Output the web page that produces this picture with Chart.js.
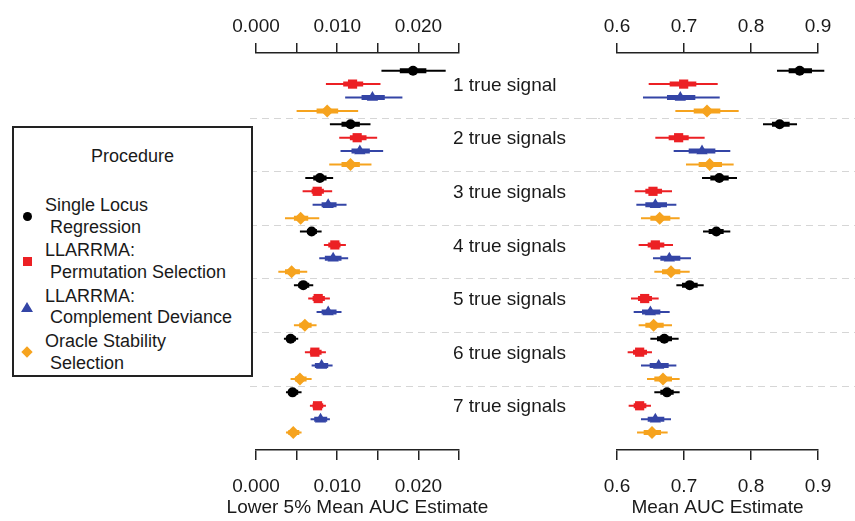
<!DOCTYPE html>
<html>
<head>
<meta charset="utf-8">
<script src="https://cdn.jsdelivr.net/npm/chart.js@4.4.0/dist/chart.umd.min.js"></script>
<style>
  body { margin: 0; width: 855px; height: 521px; position: relative; background: #fff; overflow: hidden;
         font-family: 'Liberation Sans', Arial, Helvetica, sans-serif; color: #1a1a1a; }
  #leftWrap { position: absolute; left: 200px; top: 0; width: 400px; height: 521px; }
  #rightWrap { position: absolute; left: 590px; top: 0; width: 265px; height: 521px; }
  #legend { position: absolute; left: 12px; top: 126px; width: 237px; height: 247px; border: 2px solid #222; background: #fff; }
  #legend .ltitle { position: absolute; left: 0; width: 100%; top: 18px; text-align: center; font-size: 18px; }
  #legend .line { position: absolute; left: 31px; font-size: 18px; line-height: 22px; white-space: pre; }
  #legend .mk { position: absolute; }
</style>
</head>
<body>
<div id="leftWrap"><canvas id="lowChart" width="400" height="521"></canvas></div>
<div id="rightWrap"><canvas id="meanChart" width="265" height="521"></canvas></div>
<div id="legend"></div>

<script>
// groups (rows of 4, one per procedure)
const groups = ['1 true signal', '2 true signals', '3 true signals', '4 true signals',
                '5 true signals', '6 true signals', '7 true signals'];
const methodNames = [['Single Locus', ' Regression'], ['LLARRMA:', ' Permutation Selection'],
                     ['LLARRMA:', ' Complement Deviance'], ['Oracle Stability', ' Selection']];
const methodColors = ['#000000', '#EC2024', '#3445A6', '#F6A31E'];
const methodShapes = ['circle', 'rect', 'triangle', 'rectRot'];
const methodRadius = [5, 6.5, 6.5, 6.5];

// each row: [outer low, inner low, estimate, inner high, outer high]
// Lower 5% Mean AUC Estimate
const lowSLR = [[0.01545, 0.01771, 0.01934, 0.02098, 0.02336], [0.0091, 0.01053, 0.01164, 0.01279, 0.0141],
  [0.00607, 0.00705, 0.00787, 0.00869, 0.0095], [0.00541, 0.0063, 0.00685, 0.0075, 0.00808],
  [0.00467, 0.0052, 0.00582, 0.00656, 0.00705], [0.00344, 0.00377, 0.00426, 0.00492, 0.0052],
  [0.00369, 0.00398, 0.0045, 0.0052, 0.00561]];
const lowPerm = [[0.00861, 0.01074, 0.01189, 0.0132, 0.01533], [0.01025, 0.01156, 0.01246, 0.01361, 0.01492],
  [0.00574, 0.00685, 0.00754, 0.00836, 0.00938], [0.00836, 0.0089, 0.00971, 0.01041, 0.01107],
  [0.00643, 0.00697, 0.00766, 0.00848, 0.0091], [0.00602, 0.00664, 0.00725, 0.00808, 0.00861],
  [0.00664, 0.00697, 0.00758, 0.00828, 0.00861]];
const lowComp = [[0.01098, 0.013, 0.01434, 0.01586, 0.01803], [0.01041, 0.01176, 0.01279, 0.01402, 0.01566],
  [0.00697, 0.00808, 0.00889, 0.00992, 0.01115], [0.00779, 0.00848, 0.0095, 0.01053, 0.01135],
  [0.00746, 0.00808, 0.00889, 0.00992, 0.01053], [0.00685, 0.00725, 0.00808, 0.00889, 0.00943],
  [0.00672, 0.00717, 0.00795, 0.00877, 0.0091]];
const lowOracle = [[0.005, 0.00746, 0.00877, 0.01012, 0.01258], [0.00902, 0.01053, 0.01164, 0.01279, 0.01422],
  [0.00357, 0.00467, 0.0055, 0.00643, 0.00779], [0.00275, 0.00357, 0.00439, 0.00541, 0.00631],
  [0.00467, 0.00533, 0.00602, 0.00685, 0.00746], [0.00426, 0.0048, 0.00541, 0.00623, 0.00685],
  [0.00369, 0.00398, 0.00459, 0.00533, 0.00561]];

// Mean AUC Estimate
const meanSLR = [[0.8388, 0.8562, 0.8727, 0.891, 0.9094], [0.8179, 0.8313, 0.8428, 0.8577, 0.8687],
  [0.7269, 0.7393, 0.7527, 0.7667, 0.7791], [0.7284, 0.7368, 0.7483, 0.7592, 0.7691],
  [0.6886, 0.697, 0.7085, 0.7204, 0.7294], [0.6498, 0.6597, 0.6706, 0.6821, 0.692],
  [0.6557, 0.6647, 0.6746, 0.6846, 0.6935]];
const meanPerm = [[0.6473, 0.6786, 0.6995, 0.7184, 0.7503], [0.6572, 0.6771, 0.692, 0.707, 0.7308],
  [0.6264, 0.6423, 0.6537, 0.6672, 0.6821], [0.6323, 0.6458, 0.6572, 0.6706, 0.6836],
  [0.6209, 0.6313, 0.6413, 0.6522, 0.6622], [0.6159, 0.6239, 0.6338, 0.6448, 0.6522],
  [0.6174, 0.6249, 0.6338, 0.6438, 0.6507]];
const meanComp = [[0.6388, 0.6746, 0.6945, 0.7169, 0.7533], [0.6846, 0.707, 0.7269, 0.7468, 0.7691],
  [0.6289, 0.6423, 0.6572, 0.6746, 0.6886], [0.6537, 0.6647, 0.6781, 0.6945, 0.7104],
  [0.6249, 0.6373, 0.6498, 0.6647, 0.6786], [0.6358, 0.6488, 0.6622, 0.6771, 0.6886],
  [0.6358, 0.6458, 0.6572, 0.6706, 0.6806]];
const meanOracle = [[0.6871, 0.7145, 0.7343, 0.7542, 0.7816], [0.703, 0.7219, 0.7383, 0.7567, 0.7741],
  [0.6358, 0.6498, 0.6637, 0.6796, 0.6935], [0.6557, 0.6672, 0.6806, 0.6945, 0.7085],
  [0.6323, 0.6423, 0.6547, 0.6697, 0.6821], [0.6448, 0.6557, 0.6687, 0.6821, 0.6935],
  [0.6299, 0.6398, 0.6522, 0.6657, 0.6756]];

const FONT = "'Liberation Sans', Arial, Helvetica, sans-serif";
const TEXT = '#1a1a1a';
const AXIS = '#222222';

function buildDatasets(panel) {
    let out = [];
    panel.forEach((rows, m) => {
        let thin = [], thick = [], pts = [];
        rows.forEach((t, g) => {
            let r = g * 4 + m;
            thin.push({x: t[0], y: r}, {x: t[4], y: r}, {x: null, y: null});
            thick.push({x: t[1], y: r}, {x: t[3], y: r}, {x: null, y: null});
            pts.push({x: t[2], y: r});
        });
        const c = methodColors[m];
        out.push({ type: 'line', data: thin, borderColor: c, borderWidth: 2, pointRadius: 0,
                   spanGaps: false, fill: false, clip: false, order: 3, xAxisID: 'x', yAxisID: 'y' });
        out.push({ type: 'line', data: thick, borderColor: c, borderWidth: 5, pointRadius: 0,
                   spanGaps: false, fill: false, clip: false, order: 2, xAxisID: 'x', yAxisID: 'y' });
        out.push({ type: 'scatter', data: pts, pointStyle: methodShapes[m], pointRadius: methodRadius[m],
                   backgroundColor: c, borderColor: c, borderWidth: 0, clip: false, order: 1,
                   xAxisID: 'x', yAxisID: 'y' });
    });
    return out;
}

// dashed group separators, group names and the axis title
const panelDecor = {
    id: 'panelDecor',
    beforeDatasetsDraw(chart, args, opts) {
        const ctx = chart.ctx, ys = chart.scales.y;
        ctx.save();
        ctx.strokeStyle = '#d6d6d6';
        ctx.lineWidth = 1;
        ctx.setLineDash([7, 5]);
        for (let g = 1; g < groups.length; g++) {
            let py = Math.round(ys.getPixelForValue(g * 4 - 0.5)) + 0.5;
            ctx.beginPath(); ctx.moveTo(opts.from, py); ctx.lineTo(chart.width, py); ctx.stroke();
        }
        ctx.setLineDash([]);
        ctx.fillStyle = TEXT;
        ctx.font = '19px ' + FONT;
        ctx.textBaseline = 'middle';
        if (opts.labelX != null) {
            ctx.textAlign = 'left';
            groups.forEach((name, g) => ctx.fillText(name, opts.labelX, ys.getPixelForValue(g * 4 + 1.1)));
        }
        const xs = chart.scales.x;
        ctx.textAlign = 'center';
        ctx.fillText(opts.title, (xs.left + xs.right) / 2, 508);
        ctx.restore();
    }
};

function axisCfg(pos, min, max, step, fmt) {
    return {
        type: 'linear', position: pos, min: min, max: max,
        ticks: { stepSize: step, autoSkip: false, maxRotation: 0, color: TEXT,
                 font: { size: 19, family: FONT }, padding: pos === 'top' ? 5 : 15, callback: fmt },
        grid: { drawOnChartArea: false, drawTicks: true, tickLength: 10, color: AXIS, lineWidth: 1.5 },
        border: { display: true, color: AXIS, width: 1.5 },
        afterFit: s => {
            s.height = pos === 'top' ? 53 : 71;
            // chart area edges come from layout padding only
            s.paddingLeft = 0;
            s.paddingRight = 0;
        }
    };
}

function makeChart(id, panel, min, max, step, fmt, pad, decor) {
    return new Chart(document.getElementById(id).getContext('2d'), {
        type: 'scatter',
        data: { datasets: buildDatasets(panel) },
        options: {
            responsive: false, animation: false, events: [],
            layout: { padding: pad },
            plugins: { legend: { display: false }, tooltip: { enabled: false }, panelDecor: decor },
            scales: {
                x: axisCfg('bottom', min, max, step, fmt),
                x2: axisCfg('top', min, max, step, fmt),
                y: { type: 'linear', min: -1.32, max: 28.3, reverse: true, display: false }
            }
        },
        plugins: [panelDecor]
    });
}

const lowFmt = v => (Math.round(v * 1000) % 10 === 0) ? v.toFixed(3) : '';
const meanFmt = v => v.toFixed(1);

makeChart('lowChart', [lowSLR, lowPerm, lowComp, lowOracle], 0, 0.025, 0.005, lowFmt,
          { left: 56, right: 141, top: 0, bottom: 0 },
          { from: 50, labelX: 253, title: 'Lower 5% Mean AUC Estimate' });
makeChart('meanChart', [meanSLR, meanPerm, meanComp, meanOracle], 0.6, 0.9, 0.1, meanFmt,
          { left: 27, right: 37, top: 0, bottom: 0 },
          { from: 0, labelX: null, title: 'Mean AUC Estimate' });

// legend box
const legend = document.getElementById('legend');
legend.innerHTML = '<div class="ltitle">Procedure</div>';
methodNames.forEach((lines, i) => {
    const top = 66 + i * 45.3;
    lines.forEach((txt, k) => {
        let d = document.createElement('div');
        d.className = 'line';
        d.style.top = (top + k * 21.7) + 'px';
        d.textContent = txt;
        legend.appendChild(d);
    });
    const mk = document.createElement('div');
    mk.className = 'mk';
    const cy = top + 22, cx = 13, c = methodColors[i];
    if (methodShapes[i] === 'circle') {
        Object.assign(mk.style, { left: (cx - 4.5) + 'px', top: (cy - 4.5) + 'px', width: '9px', height: '9px', borderRadius: '50%', background: c });
    } else if (methodShapes[i] === 'rect') {
        Object.assign(mk.style, { left: (cx - 4.5) + 'px', top: (cy - 4.5) + 'px', width: '9px', height: '9px', background: c });
    } else if (methodShapes[i] === 'triangle') {
        Object.assign(mk.style, { left: (cx - 6) + 'px', top: (cy - 5) + 'px', width: 0, height: 0,
            borderLeft: '6px solid transparent', borderRight: '6px solid transparent', borderBottom: '10px solid ' + c });
    } else {
        Object.assign(mk.style, { left: (cx - 4) + 'px', top: (cy - 4) + 'px', width: '8px', height: '8px', background: c, transform: 'rotate(45deg)' });
    }
    legend.appendChild(mk);
});
</script>
</body>
</html>
